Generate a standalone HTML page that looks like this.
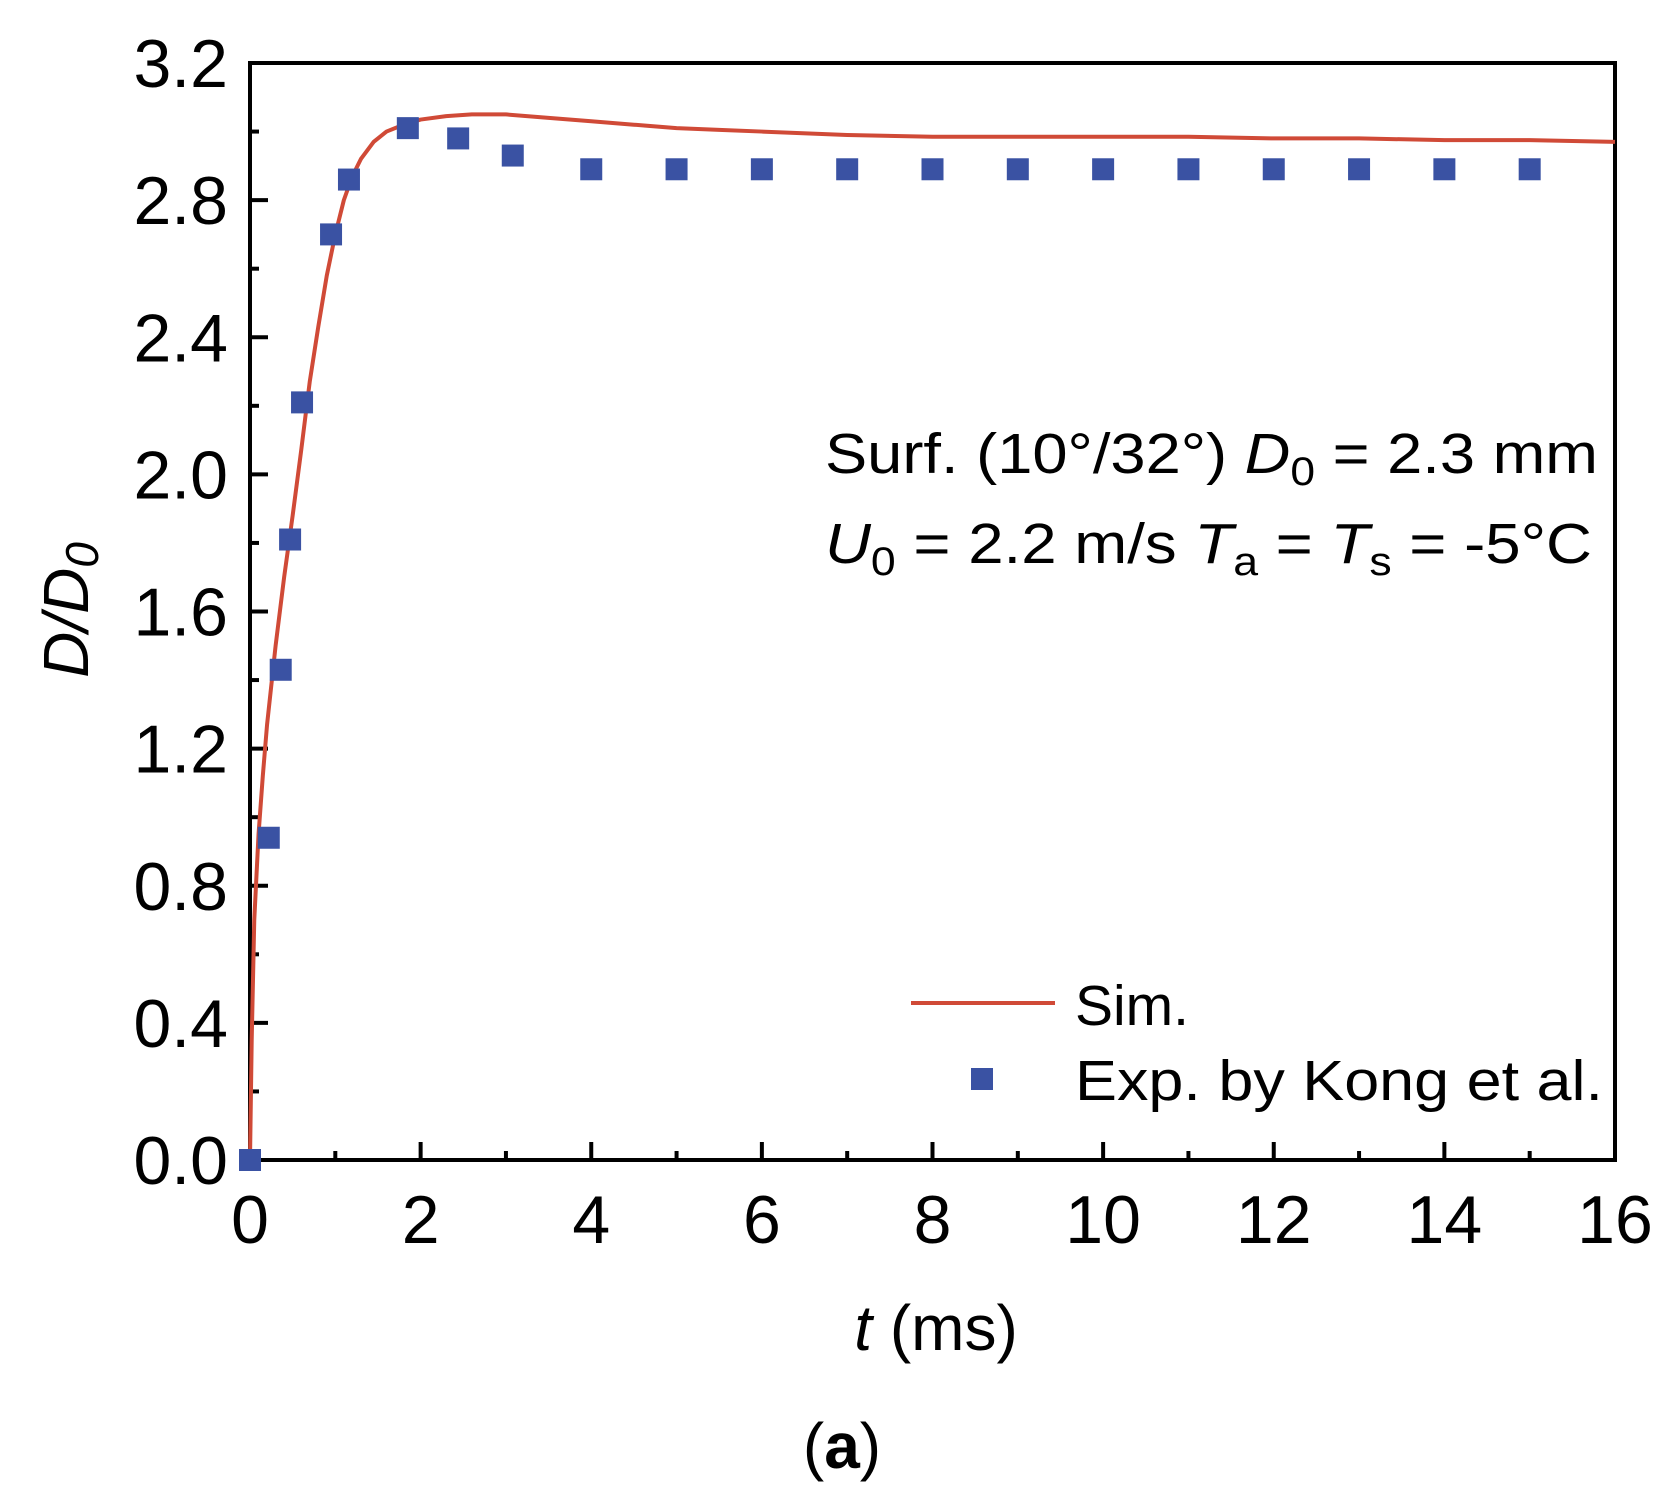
<!DOCTYPE html>
<html><head><meta charset="utf-8"><style>
body{margin:0;background:#fff}
svg{display:block}
text{font-family:"Liberation Sans",Arial,sans-serif;fill:#000}
</style></head><body>
<svg id="chart" width="1669" height="1506" viewBox="0 0 1669 1506" xmlns="http://www.w3.org/2000/svg">
<g id="grid"></g>
<g id="series"></g>
<text x="825" y="473" font-size="57" textLength="773" lengthAdjust="spacingAndGlyphs">Surf. (10°/32°) <tspan font-style="italic">D</tspan><tspan font-size="40" dy="12">0</tspan><tspan dy="-12"> = 2.3 mm</tspan></text>
<text x="825" y="563" font-size="57" textLength="767" lengthAdjust="spacingAndGlyphs"><tspan font-style="italic">U</tspan><tspan font-size="40" dy="12">0</tspan><tspan dy="-12"> = 2.2 m/s </tspan><tspan font-style="italic">T</tspan><tspan font-size="40" dy="12">a</tspan><tspan dy="-12"> = </tspan><tspan font-style="italic">T</tspan><tspan font-size="40" dy="12">s</tspan><tspan dy="-12"> = -5°C</tspan></text>
<g>
<line x1="911" y1="1003" x2="1055" y2="1003" stroke="#d04a37" stroke-width="4"/>
<text x="1075" y="1025" font-size="57">Sim.</text>
<rect x="971" y="1068" width="22" height="22" fill="#3a52a3"/>
<text x="1075" y="1100" font-size="57" textLength="528" lengthAdjust="spacingAndGlyphs">Exp. by Kong et al.</text>
</g>
<text x="936" y="1350" font-size="64" text-anchor="middle"><tspan font-style="italic">t</tspan> (ms)</text>
<text transform="translate(88,610) rotate(-90)" font-size="64" text-anchor="middle" font-style="italic">D/D<tspan font-size="46" dy="10">0</tspan></text>
<text x="842" y="1468" font-size="64" text-anchor="middle" font-family="Liberation Serif,serif">(<tspan font-weight="bold">a</tspan>)</text>
</svg>
<script>
const xTicks=[0,2,4,6,8,10,12,14,16];
const yTicks=[0.0,0.4,0.8,1.2,1.6,2.0,2.4,2.8,3.2];
const expT=[0,0.22,0.36,0.47,0.61,0.95,1.16,1.85,2.44,3.08,4,5,6,7,8,9,10,11,12,13,14,15];
const expD=[0,0.94,1.43,1.81,2.21,2.70,2.86,3.01,2.98,2.93,2.89,2.89,2.89,2.89,2.89,2.89,2.89,2.89,2.89,2.89,2.89,2.89];
const simT=[0,0.02,0.05,0.1,0.15,0.2,0.3,0.4,0.5,0.6,0.7,0.8,0.9,1.0,1.1,1.2,1.3,1.45,1.6,1.8,2.0,2.3,2.6,3.0,3.5,4,4.5,5,5.5,6,7,8,9,10,11,12,13,14,15,16];
const simD=[0,0.35,0.7,0.95,1.12,1.27,1.5,1.7,1.88,2.07,2.27,2.43,2.58,2.70,2.80,2.87,2.92,2.97,3.0,3.02,3.035,3.045,3.05,3.05,3.04,3.03,3.02,3.01,3.005,3.0,2.99,2.985,2.985,2.985,2.985,2.98,2.98,2.975,2.975,2.97];
const X0=250,X1=1615,Y0=1160,Y1=63;
const sx=v=>X0+(v-0)/(16-0)*(X1-X0);
const sy=v=>Y0-(v-0)/(3.2-0)*(Y0-Y1);
const NS="http://www.w3.org/2000/svg";
const mk=(t,a,p)=>{const e=document.createElementNS(NS,t);for(const k in a)e.setAttribute(k,a[k]);p.appendChild(e);return e;};
const g=document.getElementById('grid'),s=document.getElementById('series');
xTicks.forEach((v,i)=>{
 const l=mk('line',{x1:sx(v),x2:sx(v),y1:Y0,y2:Y0-18,stroke:'#000','stroke-width':4},g);
 
 
 if(i<xTicks.length-1){const m=mk('line',{x1:sx(v+1),x2:sx(v+1),y1:Y0,y2:Y0-9,stroke:'#000','stroke-width':4},g);
 
 }
 const t=mk('text',{x:sx(v),y:1243,'font-size':68,'text-anchor':'middle'},g);t.textContent=v;
 
 
});
yTicks.forEach((v,i)=>{
 const l=mk('line',{x1:X0,x2:X0+18,y1:sy(v),y2:sy(v),stroke:'#000','stroke-width':4},g);
 
 
 if(i<yTicks.length-1){const m=mk('line',{x1:X0,x2:X0+9,y1:sy(v+0.2),y2:sy(v+0.2),stroke:'#000','stroke-width':4},g);
 
 }
 const t=mk('text',{x:228,y:sy(v)+24,'font-size':68,'text-anchor':'end'},g);t.textContent=v.toFixed(1);
 
 
});
const fr=mk('rect',{x:X0,y:Y1,width:X1-X0,height:Y0-Y1,fill:'none',stroke:'#000','stroke-width':4},g);


const pl=mk('polyline',{points:simT.map((t,i)=>sx(t)+','+sy(simD[i])).join(' '),fill:'none',stroke:'#d04a37','stroke-width':4,'stroke-linejoin':'round'},s);


expT.forEach((t,i)=>{
 const r=mk('rect',{x:sx(t)-11,y:sy(expD[i])-11,width:22,height:22,fill:'#3a52a3'},s);
 
 
});
</script>
</body></html>
